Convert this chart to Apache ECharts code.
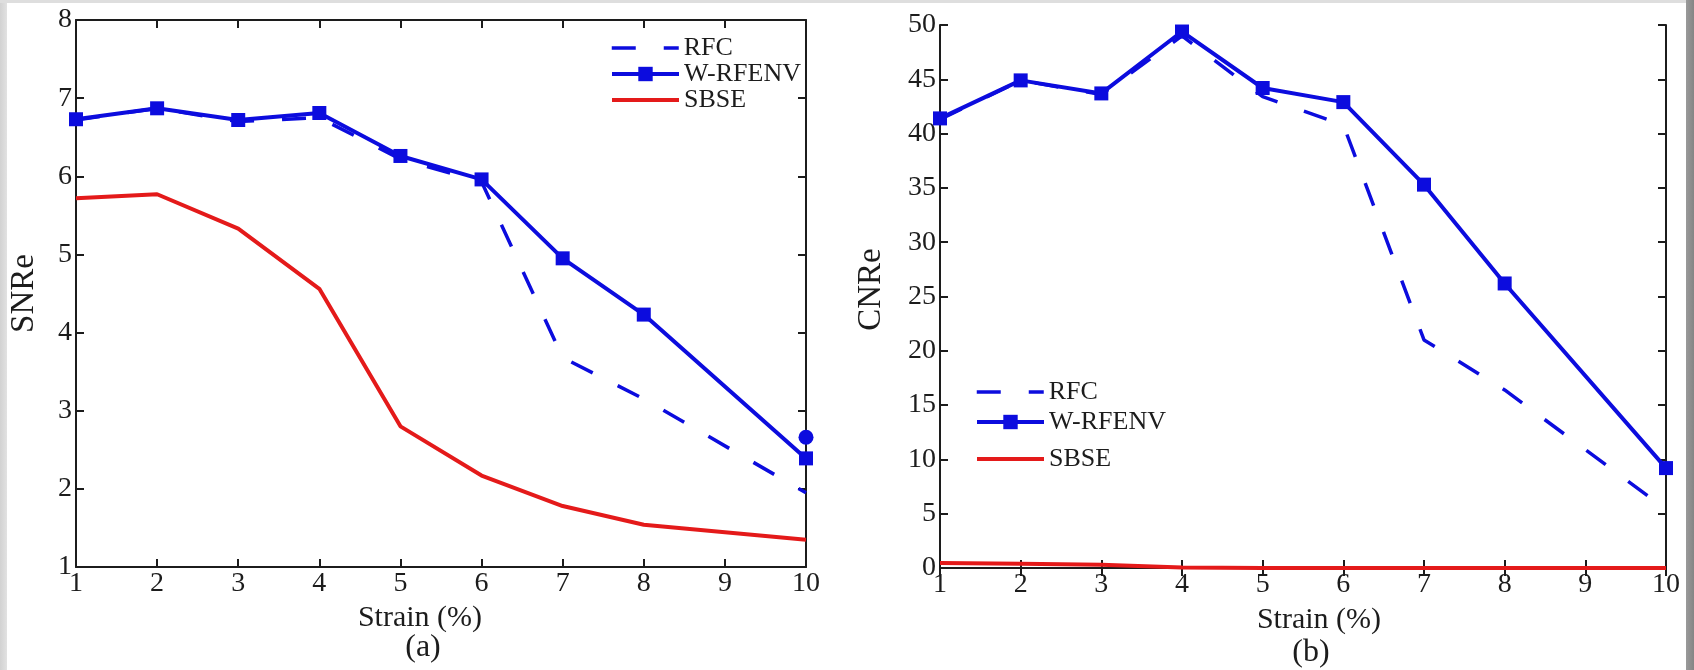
<!DOCTYPE html>
<html>
<head>
<meta charset="utf-8">
<title>SNRe / CNRe vs Strain</title>
<script src="https://cdn.jsdelivr.net/npm/echarts@6/dist/echarts.min.js"></script>
<style>
  html, body { margin: 0; padding: 0; width: 1694px; height: 670px; overflow: hidden; background: #ffffff; }
  #frame-left { position: absolute; left: 0; top: 0; width: 7px; height: 670px; background: linear-gradient(90deg, #d2d2d2, #e2e2e2); }
  #frame-top { position: absolute; left: 0; top: 0; width: 1694px; height: 3px; background: #dedede; }
  #frame-right { position: absolute; left: 1686px; top: 0; width: 8px; height: 670px; background: linear-gradient(90deg, #9a9a9a, #858585); }
  #chart { position: absolute; left: 0; top: 0; width: 1694px; height: 670px; }
</style>
</head>
<body>
<div id="frame-left"></div>
<div id="frame-top"></div>
<div id="frame-right"></div>
<div id="chart"></div>
<script>
// Strain levels (%) at which each method was evaluated
const strain = [1, 2, 3, 4, 5, 6, 7, 8, 10];
const xTicks = [1, 2, 3, 4, 5, 6, 7, 8, 9, 10];

// (a) SNRe
const snreRFC    = [6.72, 6.87, 6.70, 6.75, 6.22, 5.93, 3.68, 3.15, 1.95];
const snreWRFENV = [6.73, 6.87, 6.72, 6.81, 6.26, 5.96, 4.95, 4.23, 2.39];
const snreSBSE   = [5.72, 5.77, 5.33, 4.56, 2.80, 2.17, 1.78, 1.54, 1.35];
const snreExtra  = [[10, 2.66]];

// (b) CNRe
const cnreRFC    = [41.3, 44.9, 43.6, 49.0, 43.4, 40.8, 21.0, 16.4, 5.4];
const cnreWRFENV = [41.4, 44.9, 43.7, 49.4, 44.2, 42.9, 35.3, 26.2, 9.2];
const cnreSBSE   = [0.45, 0.40, 0.30, 0.05, 0, 0, 0, 0, 0];

const seriesNames = ['RFC', 'W-RFENV', 'SBSE'];

const BLUE = '#0c0cde';
const RED = '#e41a1a';
const INK = '#1c1c1c';
const FONT = "'Liberation Serif', 'DejaVu Serif', serif";
const TICK_FS = 28;
const XNAME_FS = 30;
const YNAME_FS = 33;
const LEGEND_FS = 26;
const PANEL_FS = 32;
const RFC_DASH = [24, 28];

const pair = (ys) => strain.map((x, i) => [x, ys[i]]);

function mainXAxis(gridIndex, padding, gap) {
  return {
    type: 'value', gridIndex, position: 'bottom',
    min: xTicks[0], max: xTicks[xTicks.length - 1], interval: 1,
    name: 'Strain (%)', nameLocation: 'middle', nameGap: gap,
    nameTextStyle: { fontFamily: FONT, fontSize: XNAME_FS, color: INK, padding },
    axisLine: { lineStyle: { color: INK, width: 2 } },
    axisTick: { inside: true, length: 8, lineStyle: { color: INK, width: 2 } },
    axisLabel: { fontFamily: FONT, fontSize: TICK_FS, color: INK, margin: 3 },
    splitLine: { show: false }
  };
}
function boxXAxis(gridIndex) {
  return {
    type: 'value', gridIndex, position: 'top',
    min: xTicks[0], max: xTicks[xTicks.length - 1], interval: 1,
    axisLine: { lineStyle: { color: INK, width: 2 } },
    axisTick: { inside: true, length: 8, lineStyle: { color: INK, width: 2 } },
    axisLabel: { show: false }, splitLine: { show: false }
  };
}
function mainYAxis(gridIndex, name, min, max, interval, gap, padding) {
  return {
    type: 'value', gridIndex, position: 'left', min, max, interval,
    name, nameLocation: 'middle', nameGap: gap, nameRotate: 90,
    nameTextStyle: { fontFamily: FONT, fontSize: YNAME_FS, color: INK, padding },
    axisLine: { show: true, lineStyle: { color: INK, width: 2 } },
    axisTick: { show: true, inside: true, length: 8, lineStyle: { color: INK, width: 2 } },
    axisLabel: { fontFamily: FONT, fontSize: TICK_FS, color: INK, margin: 4 },
    splitLine: { show: false }
  };
}
function boxYAxis(gridIndex, min, max, interval) {
  return {
    type: 'value', gridIndex, position: 'right', min, max, interval,
    axisLine: { show: true, lineStyle: { color: INK, width: 2 } },
    axisTick: { show: true, inside: true, length: 8, lineStyle: { color: INK, width: 2 } },
    axisLabel: { show: false }, splitLine: { show: false }
  };
}

function methodSeries(xi, yi, rfc, wrf, sbse) {
  return [
    {
      name: 'RFC', type: 'line', xAxisIndex: xi, yAxisIndex: yi,
      data: pair(rfc), showSymbol: false, symbol: 'none',
      lineStyle: { color: BLUE, width: 3.5, type: RFC_DASH },
      itemStyle: { color: BLUE }, z: 2
    },
    {
      name: 'W-RFENV', type: 'line', xAxisIndex: xi, yAxisIndex: yi,
      data: pair(wrf), symbol: 'rect', symbolSize: 14,
      lineStyle: { color: BLUE, width: 4 },
      itemStyle: { color: BLUE }, z: 3
    },
    {
      name: 'SBSE', type: 'line', xAxisIndex: xi, yAxisIndex: yi,
      data: pair(sbse), showSymbol: false, symbol: 'none',
      lineStyle: { color: RED, width: 4 },
      itemStyle: { color: RED }, z: 2
    }
  ];
}

// One legend block per entry so each row can sit at its own height
function legendItem(name, left, top) {
  const cfg = {
    data: [name], left, top, orient: 'vertical',
    itemWidth: 67, itemHeight: 14, padding: 0,
    selectedMode: false,
    textStyle: { fontFamily: FONT, fontSize: LEGEND_FS, color: INK, lineHeight: 24 }
  };
  if (name === 'RFC') {
    cfg.itemStyle = { color: 'rgba(0,0,0,0)', borderWidth: 0 };
    cfg.lineStyle = { color: BLUE, width: 3.5, type: RFC_DASH };
  } else if (name === 'SBSE') {
    cfg.itemStyle = { color: 'rgba(0,0,0,0)', borderWidth: 0 };
    cfg.lineStyle = { color: RED, width: 4, type: 'solid' };
  } else {
    cfg.itemHeight = 18;
    cfg.lineStyle = { color: BLUE, width: 4, type: 'solid' };
  }
  return cfg;
}

const chart = echarts.init(document.getElementById('chart'), null, { renderer: 'canvas' });

chart.setOption({
  backgroundColor: 'transparent',
  animation: false,
  grid: [
    { left: 76, top: 20, width: 730, height: 547 },
    { left: 940, top: 25, width: 726, height: 543 }
  ],
  xAxis: [
    mainXAxis(0, [0, 42, 0, 0], 35),
    boxXAxis(0),
    mainXAxis(1, [0, 0, 0, 32], 37),
    boxXAxis(1)
  ],
  yAxis: [
    mainYAxis(0, 'SNRe', 1, 8, 1, 35, [0, 0, 0, 0]),
    boxYAxis(0, 1, 8, 1),
    mainYAxis(1, 'CNRe', 0, 50, 5, 52, [0, 0, 0, 14]),
    boxYAxis(1, 0, 50, 5)
  ],
  legend: [
    legendItem(seriesNames[0], 610, 35),
    legendItem(seriesNames[1], 610, 61),
    legendItem(seriesNames[2], 610, 87),
    legendItem(seriesNames[0], 975, 379),
    legendItem(seriesNames[1], 975, 409),
    legendItem(seriesNames[2], 975, 446)
  ],
  graphic: [
    { type: 'text', x: 423, y: 648, style: { text: '(a)', font: PANEL_FS + 'px ' + FONT, fill: INK, align: 'center', verticalAlign: 'middle' } },
    { type: 'text', x: 1311, y: 653, style: { text: '(b)', font: PANEL_FS + 'px ' + FONT, fill: INK, align: 'center', verticalAlign: 'middle' } }
  ],
  series: [
    ...methodSeries(0, 0, snreRFC, snreWRFENV, snreSBSE),
    {
      name: 'W-RFENV (circle)', type: 'scatter', xAxisIndex: 0, yAxisIndex: 0,
      data: snreExtra, symbol: 'circle', symbolSize: 15,
      itemStyle: { color: BLUE, opacity: 1 }, z: 4
    },
    ...methodSeries(2, 2, cnreRFC, cnreWRFENV, cnreSBSE)
  ]
});
</script>
</body>
</html>
